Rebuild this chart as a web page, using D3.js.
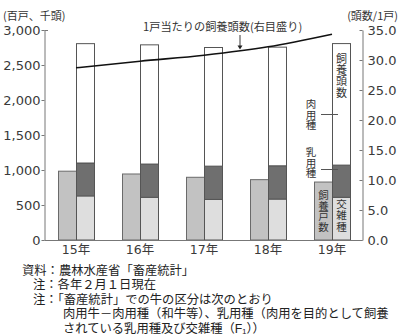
<!DOCTYPE html>
<html>
<head>
<meta charset="utf-8">
<script src="https://cdn.jsdelivr.net/npm/d3@7/dist/d3.min.js"></script>
<style>
  html, body { margin: 0; padding: 0; background: #fff; }
  svg { display: block; }
</style>
</head>
<body>
<svg id="chart" width="400" height="336"></svg>
<script>
// 肉用牛の飼養戸数・飼養頭数の推移
const years = ["15年", "16年", "17年", "18年", "19年"];
const households = [983, 943, 896, 862, 828];          // 飼養戸数（百戸）
const crossbred = [630, 610, 580, 585, 610];            // 交雑種（千頭）
const dairy = [470, 475, 475, 475, 460];                // 乳用種（千頭）
const beef = [1705, 1703, 1695, 1695, 1736];            // 肉用種（千頭）
const perHousehold = [28.7, 29.8, 30.8, 32.2, 34.3];    // 1戸当たり飼養頭数（頭）
const leftTicks = [0, 500, 1000, 1500, 2000, 2500, 3000];
const rightTicks = [0, 5, 10, 15, 20, 25, 30, 35];
const notes = [
  "資料：農林水産省「畜産統計」",
  "注：各年２月１日現在",
  "注：「畜産統計」での牛の区分は次のとおり",
  "肉用牛－肉用種（和牛等）、乳用種（肉用を目的として飼養",
  "されている乳用種及び交雑種（F₁））"
];

const FONT = "'DejaVu Sans', 'Noto Sans CJK JP', sans-serif";
const JFONT = "'Noto Sans CJK JP', sans-serif";
const NFONT = "'Liberation Sans', 'Noto Sans CJK JP', sans-serif";
const INK = "#333";

const svg = d3.select("#chart");
svg.append("rect").attr("width", 400).attr("height", 336).attr("fill", "#fff");

const x = d3.scaleBand().domain(years).range([44, 364]);
const y = d3.scaleLinear().domain([0, 3000]).range([240, 30]);
const y2 = d3.scaleLinear().domain([0, 35]).range([240, 30]);
const barW = 18;

// stacked head counts
const rows = years.map((yr, i) => ({ year: yr, crossbred: crossbred[i], dairy: dairy[i], beef: beef[i] }));
const stack = d3.stack().keys(["crossbred", "dairy", "beef"])(rows);
const fills = { crossbred: "#dedede", dairy: "#6f6f6f", beef: "#ffffff" };

// households bars
svg.append("g").selectAll("rect").data(households).join("rect")
  .attr("x", (d, i) => x(years[i]) + x.bandwidth() / 2 - barW + 0.5)
  .attr("y", d => y(d))
  .attr("width", barW)
  .attr("height", d => y(0) - y(d))
  .attr("fill", "#c2c2c2")
  .attr("stroke", "#6a6a6a")
  .attr("stroke-width", 1);

svg.append("g").selectAll("g").data(stack).join("g")
  .attr("fill", s => fills[s.key])
  .selectAll("rect").data(s => s).join("rect")
  .attr("x", d => x(d.data.year) + x.bandwidth() / 2 + 0.5)
  .attr("y", d => y(d[1]))
  .attr("width", barW)
  .attr("height", d => y(d[0]) - y(d[1]))
  .attr("stroke", "#555")
  .attr("stroke-width", 1);

// axes
const axL = svg.append("g").attr("transform", "translate(44.5,0)")
  .call(d3.axisLeft(y).tickValues(leftTicks).tickSize(3).tickSizeOuter(0).tickPadding(1)
    .tickFormat(d3.format(",")));
const axR = svg.append("g").attr("transform", "translate(362.5,0)")
  .call(d3.axisRight(y2).tickValues(rightTicks).tickSize(-3).tickSizeOuter(0).tickPadding(5)
    .tickFormat(d3.format(".1f")));
[axL, axR].forEach(g => {
  g.select(".domain").attr("stroke", "#777");
  g.selectAll(".tick line").attr("stroke", "#777");
  g.selectAll(".tick text").attr("font-family", FONT).attr("font-size", 13).attr("fill", "#3a3a3a");
});
// top cap of the left axis
svg.append("line").attr("x1", 44.5).attr("x2", 48).attr("y1", y(3000) + 0.5).attr("y2", y(3000) + 0.5).attr("stroke", "#777");
// baseline
svg.append("line").attr("x1", 44.5).attr("x2", 362.5).attr("y1", y(0) + 0.5).attr("y2", y(0) + 0.5).attr("stroke", "#777");

// category labels
svg.append("g").selectAll("text").data(years).join("text")
  .attr("x", d => x(d) + x.bandwidth() / 2)
  .attr("y", 253.5)
  .attr("text-anchor", "middle")
  .attr("font-family", FONT).attr("font-size", 12.5).attr("fill", "#3a3a3a")
  .text(d => d);

// per-household line
const line = d3.line().x((d, i) => x(years[i]) + x.bandwidth() / 2).y(d => y2(d)).curve(d3.curveMonotoneX);
svg.append("path").datum(perHousehold).attr("d", line)
  .attr("fill", "none").attr("stroke", "#111").attr("stroke-width", 1.6);

// unit labels
svg.append("text").attr("x", 3).attr("y", 20).attr("font-family", JFONT).attr("font-size", 11).attr("fill", INK).text("(百戸、千頭)");
svg.append("text").attr("x", 398).attr("y", 20).attr("text-anchor", "end").attr("font-family", JFONT).attr("font-size", 11).attr("fill", INK).text("(頭数/1戸)");

// line caption with arrow
svg.append("text").attr("x", 143).attr("y", 31).attr("font-family", JFONT).attr("font-size", 11.2).attr("fill", INK).text("1戸当たりの飼養頭数(右目盛り)");
const ax = 240;
const lineYAt = d3.scaleLinear().domain([x(years[2]) + x.bandwidth() / 2, x(years[3]) + x.bandwidth() / 2]).range([y2(perHousehold[2]), y2(perHousehold[3])]);
const tipY = lineYAt(ax) - 1;
svg.append("line").attr("x1", ax).attr("x2", ax).attr("y1", 35).attr("y2", tipY - 3).attr("stroke", "#222").attr("stroke-width", 0.9);
svg.append("path").attr("d", `M${ax - 2.5},${tipY - 4}L${ax + 2.5},${tipY - 4}L${ax},${tipY}Z`).attr("fill", "#222");

// vertical labels, set top-to-bottom as single text runs
function vtext(label, cx, top, step, size) {
  const n = Array.from(label).length;
  svg.append("text")
    .attr("x", cx)
    .attr("y", top + (n * step) / 2)
    .attr("text-anchor", "middle")
    .style("writing-mode", "vertical-rl")
    .style("letter-spacing", (step - size) + "px")
    .attr("font-family", JFONT).attr("font-size", size).attr("fill", INK)
    .text(label);
}
const c19 = x(years[4]) + x.bandwidth() / 2;
vtext("飼養頭数", c19 + barW / 2 + 0.5, 53, 11.3, 11);
vtext("肉用種", 311, 99, 10.4, 10.5);
vtext("乳用種", 311, 146.5, 10.8, 10.5);
vtext("飼養戸数", c19 - barW / 2 + 0.5, 190, 10.6, 10.5);
vtext("交雑種", c19 + barW / 2 + 0.5, 199, 11.2, 10.5);
// leader lines
svg.append("line").attr("x1", 321).attr("x2", 338).attr("y1", 114.5).attr("y2", 114.5).attr("stroke", "#555");
svg.append("line").attr("x1", 321).attr("x2", 338).attr("y1", 169.5).attr("y2", 169.5).attr("stroke", "#555");

// notes
const noteX = [22, 33, 33, 63, 63];
svg.append("g").selectAll("text").data(notes).join("text")
  .attr("x", (d, i) => noteX[i])
  .attr("y", (d, i) => 274.5 + i * 14.6)
  .attr("font-family", NFONT).attr("font-size", 12.3).attr("fill", "#222")
  .text(d => d);
</script>
</body>
</html>
